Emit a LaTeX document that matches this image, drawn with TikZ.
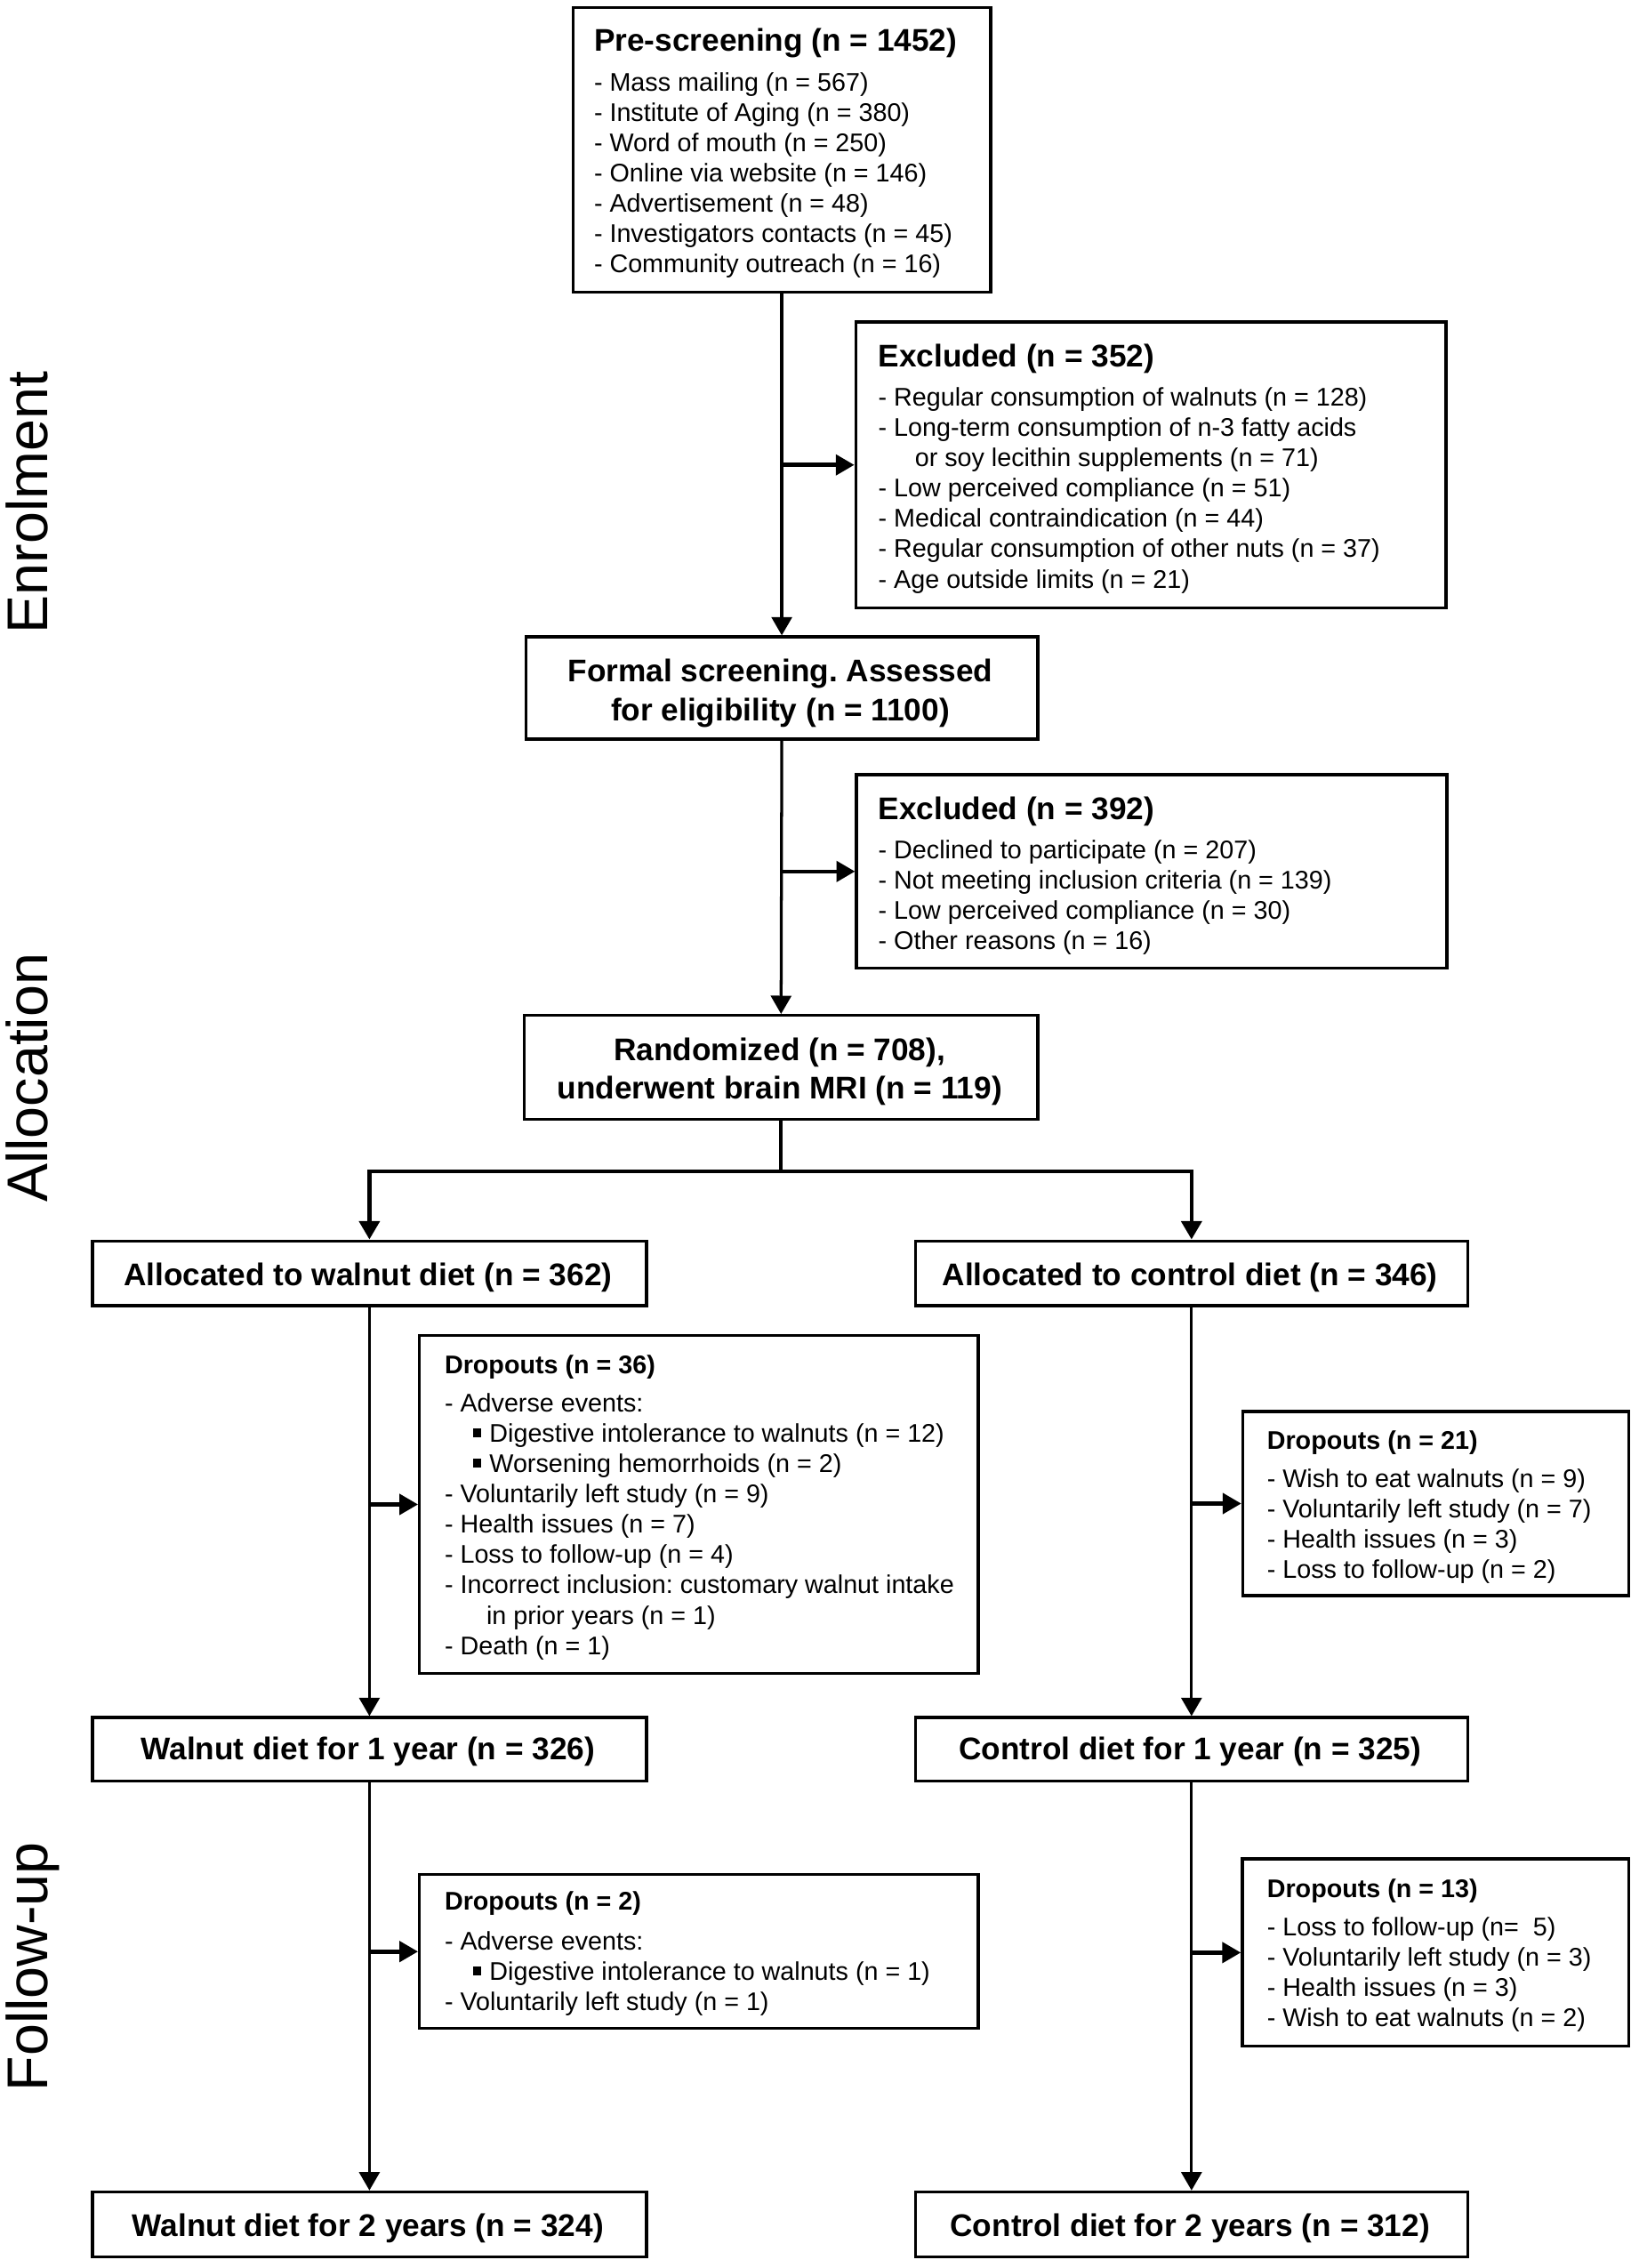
\documentclass[tikz,border=0pt]{standalone}
\usepackage{fontspec}
\setmainfont{Liberation Sans}
\usetikzlibrary{arrows.meta}
\frenchspacing
\newcommand\bul{\hspace*{9.75pt}\rule[1.75pt]{2.8pt}{2.9pt}\hspace{2.9pt}}
\newcommand\fr{\rule{0pt}{10pt}}
\begin{document}
\begin{tikzpicture}[x=0.5pt,y=-0.5pt,
  boxst/.style={draw=black, line width=1pt, rectangle, inner sep=0pt, anchor=north west},
  conn/.style={line width=1pt, -{Triangle[length=6.3pt,width=7pt]}},
  sidearr/.style={line width=1.4pt, -{Triangle[length=6.4pt,width=7pt]}},
  brline/.style={line width=1.3pt},
  big/.style={font=\fontsize{10.8}{13.3}\selectfont\bfseries, inner sep=0pt, anchor=base},
  bigml/.style={font=\fontsize{10.8}{13.25}\selectfont\bfseries, inner sep=0pt, anchor=north, align=center},
  lst/.style={font=\fontsize{8.8}{10.45}\selectfont, inner sep=0pt, anchor=north west, align=left},
  ttl/.style={font=\fontsize{10.8}{13}\selectfont\bfseries, inner sep=0pt, anchor=base west},
  sttl/.style={font=\fontsize{8.8}{10.45}\selectfont\bfseries, inner sep=0pt, anchor=base west},
  sidelab/.style={font=\fontsize{19.8}{22}\selectfont, rotate=90, anchor=base, inner sep=0pt}]

\useasboundingbox (0,0) rectangle (1130,1563.5);

% side labels
\node[sidelab] (labE) at (32.5,346.5) {Enrolment};
\node[sidelab] (labA) at (32.5,743) {Allocation};
\node[sidelab] (labF) at (32.5,1355.8) {Follow-up};

% boxes
\node[boxst, minimum width=144pt, minimum height=98.25pt] (pre) at (394,4) {};
\node[boxst, minimum width=203.5pt, minimum height=98.5pt] (excl1) at (589,221) {};
\node[boxst, minimum width=176.5pt, minimum height=35.25pt] (formal) at (361.5,438) {};
\node[boxst, minimum width=203.5pt, minimum height=66.75pt] (excl2) at (589.5,533) {};
\node[boxst, minimum width=177pt, minimum height=35.75pt] (rand) at (360.5,699) {};
\node[boxst, minimum width=191pt, minimum height=22.3pt] (aw) at (62.7,854.4) {};
\node[boxst, minimum width=190.5pt, minimum height=22.3pt] (ac) at (630,854.4) {};
\node[boxst, minimum width=192.65pt, minimum height=116.6pt] (d36) at (288.2,919.5) {};
\node[boxst, minimum width=133.1pt, minimum height=63.5pt] (d21) at (855.8,972) {};
\node[boxst, minimum width=191pt, minimum height=21.8pt] (w1) at (62.7,1183) {};
\node[boxst, minimum width=190.5pt, minimum height=21.8pt] (c1) at (630,1183) {};
\node[boxst, minimum width=192.65pt, minimum height=53.05pt] (d2) at (288.2,1291.3) {};
\node[boxst, minimum width=133.25pt, minimum height=64.55pt] (d13) at (855.5,1280.5) {};
\node[boxst, minimum width=191pt, minimum height=22.3pt] (w2) at (62.7,1510) {};
\node[boxst, minimum width=190.5pt, minimum height=22.3pt] (c2) at (630,1510) {};

% texts
\node[ttl] (preT) at (409.2,35.1) {Pre-screening (n = 1452)};
\node[lst] (preL) at (409.2,42.4) {\fr- Mass mailing (n = 567)\\- Institute of Aging (n = 380)\\- Word of mouth (n = 250)\\- Online via website (n = 146)\\- Advertisement (n = 48)\\- Investigators contacts (n = 45)\\- Community outreach (n = 16)};

\node[ttl] (excl1T) at (605.2,252.7) {Excluded (n = 352)};
\node[lst] (excl1L) at (605.2,259.5) {\fr- Regular consumption of walnuts (n = 128)\\- Long-term consumption of n-3 fatty acids\\\hspace*{12.6pt}or soy lecithin supplements (n = 71)\\- Low perceived compliance (n = 51)\\- Medical contraindication (n = 44)\\- Regular consumption of other nuts (n = 37)\\- Age outside limits (n = 21)};

\node[bigml] (formalT) at (538,449.8) {\fr Formal screening. Assessed\\for eligibility (n = 1100)};

\node[ttl] (excl2T) at (605.2,564.7) {Excluded (n = 392)};
\node[lst] (excl2L) at (605.2,571.5) {\fr- Declined to participate (n = 207)\\- Not meeting inclusion criteria (n = 139)\\- Low perceived compliance (n = 30)\\- Other reasons (n = 16)};

\node[bigml] (randT) at (537.5,710.7) {\fr Randomized (n = 708),\\underwent brain MRI (n = 119)};

\node[big] (awT) at (253.7,886.2) {Allocated to walnut diet (n = 362)};
\node[big] (acT) at (820.5,886.2) {Allocated to control diet (n = 346)};

\node[sttl] (d36T) at (306.2,946.8) {Dropouts (n = 36)};
\node[lst] (d36L) at (306.2,952.9) {\fr- Adverse events:\\\bul Digestive intolerance to walnuts (n = 12)\\\bul Worsening hemorrhoids (n = 2)\\- Voluntarily left study (n = 9)\\- Health issues (n = 7)\\- Loss to follow-up (n = 4)\\- Incorrect inclusion: customary walnut intake\\\hspace*{14.4pt}in prior years (n = 1)\\- Death (n = 1)};

\node[sttl] (d21T) at (873.2,998.9) {Dropouts (n = 21)};
\node[lst] (d21L) at (873.2,1004.9) {\fr- Wish to eat walnuts (n = 9)\\- Voluntarily left study (n = 7)\\- Health issues (n = 3)\\- Loss to follow-up (n = 2)};

\node[big] (w1T) at (253.7,1213.1) {Walnut diet for 1 year (n = 326)};
\node[big] (c1T) at (820.5,1213.1) {Control diet for 1 year (n = 325)};

\node[sttl] (d2T) at (306.2,1316.8) {Dropouts (n = 2)};
\node[lst] (d2L) at (306.2,1323.8) {\fr- Adverse events:\\\bul Digestive intolerance to walnuts (n = 1)\\- Voluntarily left study (n = 1)};

\node[sttl] (d13T) at (873.2,1307.9) {Dropouts (n = 13)};
\node[lst] (d13L) at (873.2,1314) {\fr- Loss to follow-up (n=~~5)\\- Voluntarily left study (n = 3)\\- Health issues (n = 3)\\- Wish to eat walnuts (n = 2)};

\node[big] (w2T) at (253.7,1541.8) {Walnut diet for 2 years (n = 324)};
\node[big] (c2T) at (820.5,1541.8) {Control diet for 2 years (n = 312)};

% connectors
\draw[conn] (pre.south) -- (formal.north);
\draw[sidearr] (pre.south |- excl1.west) -- (excl1.west);
\draw[conn] (formal.south) -- (rand.north);
\draw[sidearr] (formal.south |- excl2.west) -- (excl2.west);
\draw[brline] (rand.south) -- ++(0,35.2) coordinate (br);
\draw[brline, -{Triangle[length=6.3pt,width=7pt]}] (br) -| (aw.north);
\draw[brline, -{Triangle[length=6.3pt,width=7pt]}] (br) -| (ac.north);
\draw[conn] (aw.south) -- (w1.north);
\draw[sidearr] (aw.south |- d36.west) -- (d36.west);
\draw[conn] (ac.south) -- (c1.north);
\draw[sidearr] (ac.south |- d21.west) -- (d21.west);
\draw[conn] (w1.south) -- (w2.north);
\draw[sidearr] (w1.south |- d2.west) -- (d2.west);
\draw[conn] (c1.south) -- (c2.north);
\draw[sidearr] (c1.south |- d13.west) -- (d13.west);
\end{tikzpicture}
\end{document}
